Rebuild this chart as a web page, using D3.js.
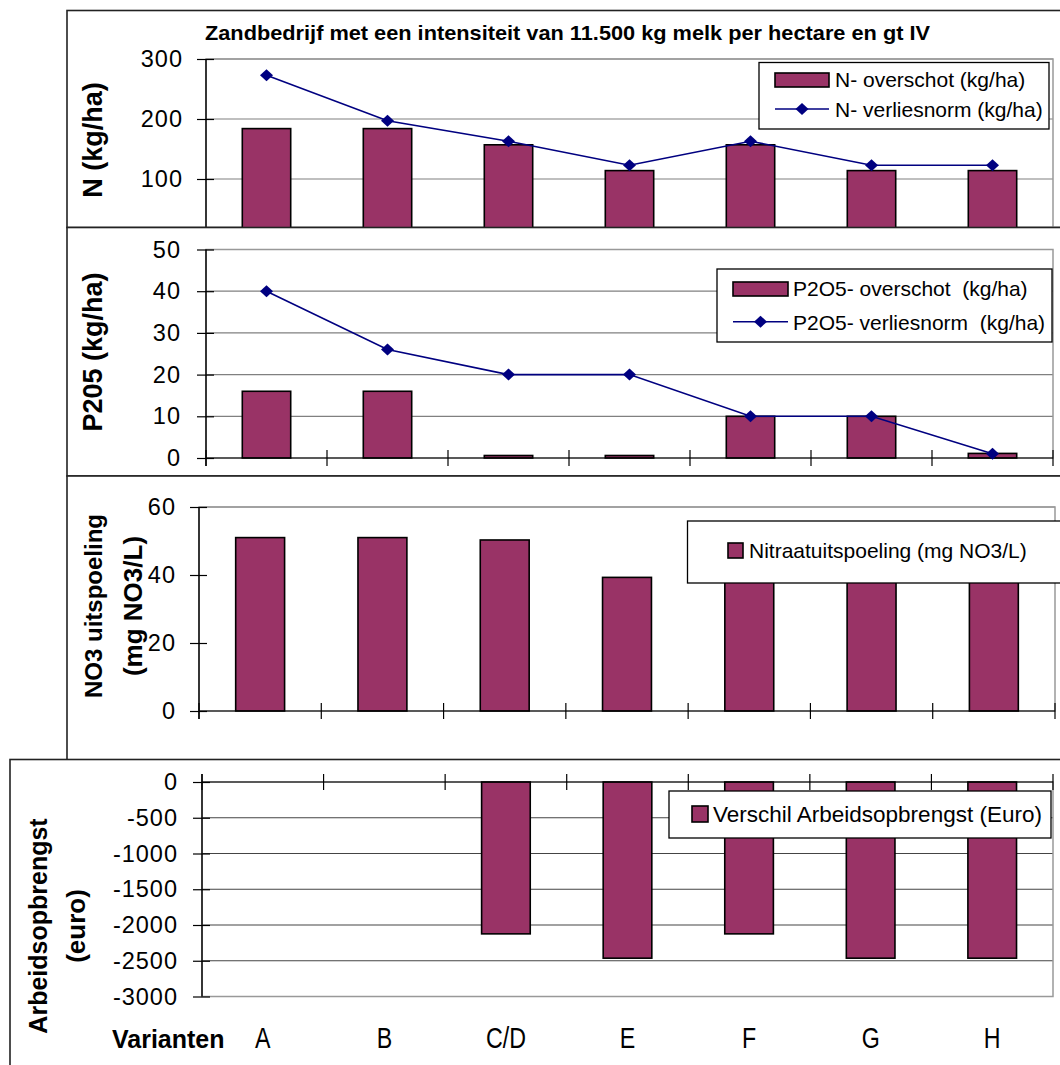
<!DOCTYPE html>
<html>
<head>
<meta charset="utf-8">
<script src="https://cdn.jsdelivr.net/npm/d3@7"></script>
<style>
  html, body { margin: 0; padding: 0; background: #fff; }
  text { font-family: "Liberation Sans", Arial, sans-serif; }
</style>
</head>
<body>
<script>
// ---------- data ----------
const categories = ["A", "B", "C/D", "E", "F", "G", "H"];
const nOverschot = [184, 184, 157, 114, 157, 114, 114];
const nVerliesnorm = [273, 197, 163, 123, 163, 123, 123];
const p2o5Overschot = [16, 16, 0.6, 0.6, 10, 10, 1.1];
const p2o5Verliesnorm = [40, 26, 20, 20, 10, 10, 1];
const nitraat = [51, 51, 50.3, 39.3, 50, 45, 45];
const arbeidsopbrengst = [0, 0, -2124, -2464, -2124, -2464, -2464];

const nTicks = [100, 200, 300];
const pTicks = [0, 10, 20, 30, 40, 50];
const no3Ticks = [0, 20, 40, 60];
const arbTicks = [0, -500, -1000, -1500, -2000, -2500, -3000];
const arbTickLabels = ["0", "-500", "-1000", "-1500", "-2000", "-2500", "-3000"];

const title = "Zandbedrijf met een intensiteit van 11.500 kg melk per hectare en gt IV";

// ---------- style ----------
const BAR = "#993366", LINE = "#000080", GRID = "#808080";
const W = 1060, H = 1065;

const svg = d3.select("body").append("svg").attr("width", W).attr("height", H);

function box(x, y, w, h) {
  svg.append("rect").attr("x", x).attr("y", y).attr("width", w).attr("height", h)
    .attr("fill", "#fff").attr("stroke", "#222").attr("stroke-width", 1.6);
}

function drawPanel(p) {
  const g = svg.append("g");
  const x = d3.scaleBand().domain(categories).range([p.x0, p.x1]).paddingInner(0.6).paddingOuter(0.3);
  const xb = d3.scaleLinear().domain([0, categories.length]).range([p.x0, p.x1]);
  const y = d3.scaleLinear().domain(p.domain).range(p.range);
  const top = Math.min(p.range[0], p.range[1]);
  const bottom = Math.max(p.range[0], p.range[1]);
  const y0 = y(0);

  g.selectAll(null).data(p.grid).join("line")
    .attr("x1", p.x0).attr("x2", p.x1)
    .attr("y1", d => y(d)).attr("y2", d => y(d))
    .attr("stroke", p.gridColor || GRID).attr("stroke-width", 1.2);

  g.append("rect").attr("x", p.x0).attr("y", top).attr("width", p.x1 - p.x0).attr("height", bottom - top)
    .attr("fill", "none").attr("stroke", "#999").attr("stroke-width", 1.5);

  g.selectAll(null).data(p.bars).join("rect")
    .attr("x", (d, i) => x(categories[i]))
    .attr("width", x.bandwidth())
    .attr("y", d => y(Math.max(0, d)))
    .attr("height", d => Math.abs(y(d) - y0))
    .attr("fill", BAR).attr("stroke", "#000").attr("stroke-width", 1.6)
    .attr("display", d => d === 0 ? "none" : null);

  g.append("line").attr("x1", p.x0).attr("x2", p.x1).attr("y1", y0).attr("y2", y0)
    .attr("stroke", "#000").attr("stroke-width", 1.2);
  g.selectAll(null).data(d3.range(categories.length + 1)).join("line")
    .attr("x1", d => xb(d)).attr("x2", d => xb(d))
    .attr("y1", y0 - 8).attr("y2", y0 + 8)
    .attr("stroke", "#000").attr("stroke-width", 1.2);

  if (p.line) {
    const cx = (d, i) => x(categories[i]) + x.bandwidth() / 2;
    g.append("path").datum(p.line)
      .attr("d", d3.line().x(cx).y(d => y(d)))
      .attr("fill", "none").attr("stroke", LINE).attr("stroke-width", 1.6);
    g.selectAll(null).data(p.line).join("path")
      .attr("transform", (d, i) => `translate(${cx(d, i)},${y(d)})`)
      .attr("d", "M0,-6L6.5,0L0,6L-6.5,0Z")
      .attr("fill", LINE);
  }

  const ax = d3.axisLeft(y).tickValues(p.ticks)
    .tickFormat((d, i) => p.tickLabels ? p.tickLabels[i] : String(d))
    .tickSize(9).tickPadding(p.pad || 14);
  const axg = g.append("g").attr("transform", `translate(${p.x0},0)`).call(ax);
  axg.select(".domain").remove();
  axg.selectAll(".tick line").attr("x1", 8).attr("stroke", "#000").attr("stroke-width", 1.2);
  axg.selectAll(".tick text").attr("font-size", 23.5).attr("fill", "#000")
    .attr("font-family", "'Liberation Sans', Arial, sans-serif").attr("letter-spacing", 1);
  g.append("line").attr("x1", p.x0).attr("x2", p.x0)
    .attr("y1", Math.min(top, y0 - 8)).attr("y2", Math.max(bottom, y0 + 8))
    .attr("stroke", "#000").attr("stroke-width", 1.4);
  return { g, x, y };
}

function legend(b, items) {
  svg.append("rect").attr("x", b.x).attr("y", b.y).attr("width", b.w).attr("height", b.h)
    .attr("fill", "#fff").attr("stroke", "#000").attr("stroke-width", 1.3);
  items.forEach(it => {
    if (it.type === "bar") {
      svg.append("rect").attr("x", it.sx).attr("y", it.sy).attr("width", it.sw).attr("height", it.sh)
        .attr("fill", BAR).attr("stroke", "#000").attr("stroke-width", 1.6);
    } else {
      svg.append("line").attr("x1", it.sx).attr("x2", it.sx + it.sw).attr("y1", it.sy).attr("y2", it.sy)
        .attr("stroke", LINE).attr("stroke-width", 1.6);
      svg.append("path").attr("transform", `translate(${it.sx + it.sw / 2},${it.sy})`)
        .attr("d", "M0,-6L6.5,0L0,6L-6.5,0Z").attr("fill", LINE);
    }
    svg.append("text").attr("x", it.tx).attr("y", it.ty).attr("font-size", it.fs || 21)
      .attr("fill", "#000").style("white-space", "pre").text(it.label);
  });
}

function yTitle(lines, cy) {
  lines.forEach(l => {
    svg.append("text").attr("transform", `translate(${l.bx},${cy}) rotate(-90)`)
      .attr("text-anchor", "middle").attr("font-weight", "bold").attr("font-size", l.fs)
      .attr("fill", "#000").text(l.t);
  });
}

// ---------- Panel 1: N ----------
box(67, 10.5, 1100, 217);
svg.append("text").attr("x", 205).attr("y", 40).attr("font-size", 21).attr("font-weight", "bold")
  .attr("fill", "#000").attr("textLength", 725).attr("lengthAdjust", "spacingAndGlyphs").text(title);
drawPanel({ x0: 206, x1: 1053, domain: [0, 300], range: [239, 59], ticks: nTicks, grid: nTicks,
  bars: nOverschot, line: nVerliesnorm, pad: 14 });
yTitle([{ t: "N (kg/ha)", bx: 102, fs: 27 }], 140);
legend({ x: 759, y: 62.5, w: 290, h: 66.5 }, [
  { type: "bar", sx: 775, sy: 73, sw: 54, sh: 14, tx: 835, ty: 87, label: "N- overschot (kg/ha)" },
  { type: "line", sx: 775, sy: 109, sw: 54, tx: 835, ty: 116.5, label: "N- verliesnorm (kg/ha)" }
]);

// ---------- Panel 2: P2O5 ----------
box(67, 227.5, 1100, 248.5);
drawPanel({ x0: 206, x1: 1053, domain: [0, 50], range: [458, 249.5], ticks: pTicks, grid: pTicks.slice(1),
  bars: p2o5Overschot, line: p2o5Verliesnorm, pad: 16 });
yTitle([{ t: "P205 (kg/ha)", bx: 102, fs: 27 }], 352);
legend({ x: 717, y: 269, w: 335, h: 73 }, [
  { type: "bar", sx: 733, sy: 282, sw: 55, sh: 14, tx: 793, ty: 296, label: "P2O5- overschot  (kg/ha)" },
  { type: "line", sx: 733, sy: 321.7, sw: 55, tx: 793, ty: 330, label: "P2O5- verliesnorm  (kg/ha)" }
]);

// ---------- Panel 3: NO3 ----------
box(67, 476, 1100, 284);
drawPanel({ x0: 199, x1: 1055, domain: [0, 60], range: [711, 507], ticks: no3Ticks, grid: [60],
  bars: nitraat, pad: 14 });
yTitle([{ t: "NO3 uitspoeling", bx: 101.5, fs: 24 }, { t: "(mg NO3/L)", bx: 141.5, fs: 26 }], 606);
legend({ x: 687.5, y: 521, w: 420, h: 62 }, [
  { type: "bar", sx: 728, sy: 543, sw: 15, sh: 15, tx: 749, ty: 558, label: "Nitraatuitspoeling (mg NO3/L)" }
]);

// ---------- Panel 4: Arbeidsopbrengst ----------
box(10, 759.5, 1100, 400);
const p4 = drawPanel({ x0: 202, x1: 1053, domain: [-3000, 0], range: [996.5, 782], ticks: arbTicks,
  tickLabels: arbTickLabels, grid: arbTicks.slice(1, 6), gridColor: "#444", bars: arbeidsopbrengst, pad: 15 });
yTitle([{ t: "Arbeidsopbrengst", bx: 47, fs: 25 }, { t: "(euro)", bx: 85, fs: 26 }], 926);
legend({ x: 669, y: 791, w: 382, h: 47 }, [
  { type: "bar", sx: 692, sy: 806, sw: 16, sh: 16, tx: 713, ty: 822, fs: 22.5, label: "Verschil Arbeidsopbrengst (Euro)" }
]);

// category labels
svg.append("text").attr("x", 112).attr("y", 1048).attr("font-size", 25).attr("font-weight", "bold")
  .attr("fill", "#000").text("Varianten");
svg.selectAll(null).data(categories).join("text")
  .attr("transform", d => `translate(${p4.x(d) + p4.x.bandwidth() / 2},1048) scale(0.8,1)`)
  .attr("text-anchor", "middle").attr("font-size", 29)
  .attr("fill", "#000").text(d => d);
</script>
</body>
</html>
